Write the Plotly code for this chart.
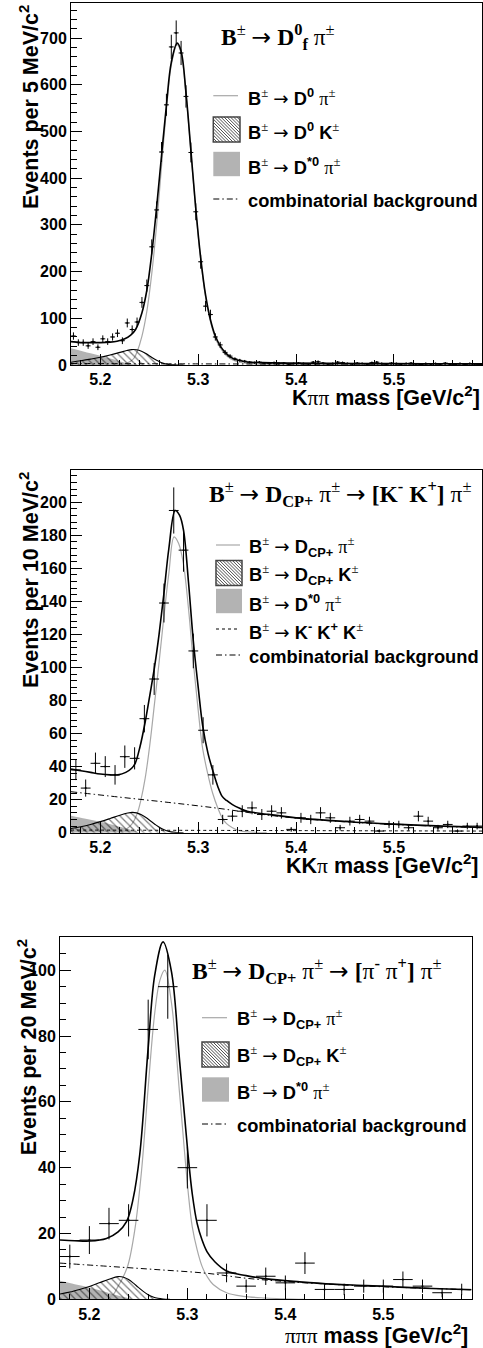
import numpy as np
import plotly.graph_objects as go

# ====================== DATA ======================
# ---- Panel 1 : K pi pi, 5 MeV bins ----
P1_MASS = [5.1725, 5.1775, 5.1825, 5.1875, 5.1925, 5.1975, 5.2025, 5.2075, 5.2125, 5.2175,
           5.2225, 5.2275, 5.2325, 5.2375, 5.2425, 5.2475, 5.2525, 5.2575, 5.2625, 5.2675,
           5.2725, 5.2775, 5.2825, 5.2875, 5.2925, 5.2975, 5.3025, 5.3075, 5.3125, 5.3175,
           5.3225, 5.3275, 5.3325, 5.3375, 5.3425, 5.3475, 5.3525, 5.3575, 5.3625, 5.3675,
           5.3725, 5.3775, 5.3825, 5.3875, 5.3925, 5.3975, 5.4025, 5.4075, 5.4125, 5.4175,
           5.4225, 5.4275, 5.4325, 5.4375, 5.4425, 5.4475, 5.4525, 5.4575, 5.4625, 5.4675,
           5.4725, 5.4775, 5.4825, 5.4875, 5.4925, 5.4975, 5.5025, 5.5075, 5.5125, 5.5175,
           5.5225, 5.5275, 5.5325, 5.5375, 5.5425, 5.5475, 5.5525, 5.5575, 5.5625, 5.5675,
           5.5725, 5.5775, 5.5825, 5.5875]
P1_COUNTS = [62, 48, 48, 41, 50, 38, 56, 50, 60, 68,
             52, 90, 76, 92, 134, 170, 253, 332, 456, 557,
             681, 711, 668, 575, 455, 328, 221, 126, 108, 60,
             43, 27, 19, 13, 10, 8, 6, 5, 6, 4,
             3, 5, 3, 4, 2, 3, 4, 3, 2, 6,
             7, 4, 2, 3, 6, 5, 3, 2, 4, 3,
             2, 5, 6, 3, 2, 4, 3, 2, 3, 4,
             2, 1, 3, 2, 3, 2, 4, 2, 1, 3,
             2, 3, 2, 1]
P1_TOTAL_M = [5.170, 5.180, 5.190, 5.200, 5.210, 5.217, 5.225, 5.231, 5.236, 5.2425, 5.2475,
              5.2525, 5.2575, 5.2625, 5.2675, 5.2725, 5.2785, 5.2825, 5.2875, 5.2925, 5.2975,
              5.3025, 5.3075, 5.3125, 5.3175, 5.3225, 5.3275, 5.333, 5.340, 5.350, 5.365,
              5.390, 5.430, 5.480, 5.530, 5.590]
P1_TOTAL_V = [50, 48, 48, 48, 49, 51, 56, 64, 76, 112, 160,
              238, 338, 448, 556, 648, 689, 672, 583, 460, 335,
              230, 150, 97, 62, 41, 27, 17, 10.5, 6.5, 5,
              4, 3.4, 3, 2.7, 2.5]
P1_SIG_M = [5.212, 5.220, 5.226, 5.231, 5.2345, 5.2375, 5.2425, 5.2475, 5.2525, 5.2575, 5.2625,
            5.2675, 5.2725, 5.2785, 5.2825, 5.2875, 5.2925, 5.2975, 5.3025, 5.3075, 5.3125,
            5.3175, 5.3225, 5.3275, 5.333, 5.340, 5.350, 5.365, 5.390, 5.430, 5.500]
P1_SIG_V = [0, 1.3, 3.5, 8, 15, 28, 62, 115, 195, 300, 425,
            545, 642, 686, 668, 580, 457, 331, 226, 146, 93,
            58, 37, 23, 13.5, 7, 3.5, 1.8, 0.7, 0.2, 0]
P1_DK_M = [5.170, 5.180, 5.190, 5.200, 5.210, 5.220, 5.227, 5.232, 5.237, 5.242, 5.247,
           5.252, 5.257, 5.262, 5.267, 5.272, 5.278, 5.285]
P1_DK_V = [6, 9, 12.5, 16.5, 21.5, 27, 31, 33, 32.5, 29.5, 24,
           17, 10.5, 5.5, 2.2, 0.6, 0.1, 0]
P1_DST_M = [5.170, 5.190, 5.210, 5.225, 5.240]
P1_DST_V = [36, 25, 14, 5, 0]
P1_COMB_M = [5.170, 5.300, 5.450, 5.590]
P1_COMB_V = [3.2, 2.4, 1.9, 1.5]

# ---- Panel 2 : K K pi, 10 MeV bins ----
P2_MASS = [5.175, 5.185, 5.195, 5.205, 5.215, 5.225, 5.235, 5.245, 5.255, 5.265,
           5.275, 5.285, 5.295, 5.305, 5.315, 5.325, 5.335, 5.345, 5.355, 5.365,
           5.375, 5.385, 5.395, 5.405, 5.415, 5.425, 5.435, 5.445, 5.455, 5.465,
           5.475, 5.485, 5.495, 5.505, 5.515, 5.525, 5.535, 5.545, 5.555, 5.565,
           5.575, 5.585]
P2_COUNTS = [38, 27, 42, 40, 35, 46, 45, 69, 93, 139,
             195, 171, 110, 62, 35, 8, 10, 13, 15, 11,
             13, 12, 2, 9, 8, 12, 9, 3, 7, 8,
             7, 1, 5, 5, 3, 10, 7, 3, 5, 1,
             4, 4]
P2_TOTAL_M = [5.170, 5.180, 5.190, 5.200, 5.210, 5.218, 5.226, 5.232, 5.2356, 5.2405, 5.2458,
              5.2505, 5.2553, 5.2600, 5.2648, 5.2700, 5.2765, 5.2810, 5.2850, 5.2900, 5.2950,
              5.3000, 5.3045, 5.3100, 5.3147, 5.3200, 5.3245, 5.3290, 5.3350, 5.3424, 5.3500,
              5.3700, 5.4000, 5.4500, 5.5000, 5.5500, 5.5900]
P2_TOTAL_V = [38.5, 37.5, 36.5, 35.5, 35, 35, 36.5, 39, 42, 52, 67,
              83, 100, 120, 144, 172, 195, 192, 183, 152, 116,
              88, 65, 48, 38, 28, 22, 19.5, 17, 14.8, 13,
              11.2, 9.0, 6.8, 5.2, 4.0, 3.2]
P2_SIG_M = [5.218, 5.226, 5.2320, 5.2373, 5.2415, 5.2458, 5.2505, 5.2553, 5.2600, 5.2648,
            5.2700, 5.2753, 5.2800, 5.2848, 5.2900, 5.2950, 5.3000, 5.3045, 5.3100, 5.3147,
            5.3200, 5.3245, 5.3290, 5.3350, 5.3425, 5.3500, 5.3700]
P2_SIG_V = [0.3, 2, 5, 11, 20, 33, 53, 78, 103, 130,
            157, 179, 175, 163, 136, 103, 74, 51, 35, 24,
            15, 9, 5.5, 3, 1.2, 0.5, 0]
P2_DK_M = [5.170, 5.180, 5.190, 5.200, 5.210, 5.220, 5.228, 5.2325, 5.237, 5.242, 5.247,
           5.252, 5.257, 5.262, 5.267, 5.272, 5.278, 5.285]
P2_DK_V = [2.5, 3.6, 5, 6.7, 8.6, 10.6, 11.9, 12.3, 12.0, 10.8, 9,
           6.8, 4.6, 2.7, 1.3, 0.5, 0.1, 0]
P2_DST_M = [5.170, 5.185, 5.200, 5.215, 5.230, 5.240]
P2_DST_V = [10.3, 8.5, 6.6, 4.4, 2.0, 0]
P2_KKK_M = [5.170, 5.380, 5.590]
P2_KKK_V = [1.6, 1.3, 1.0]
P2_COMB_M = [5.170, 5.220, 5.270, 5.320, 5.360, 5.400, 5.450, 5.500, 5.550, 5.590]
P2_COMB_V = [24.8, 21.5, 18.3, 14.8, 11.5, 8.8, 6.6, 5.0, 3.8, 3.0]

# ---- Panel 3 : pi pi pi, 20 MeV bins ----
P3_MASS = [5.18, 5.20, 5.22, 5.24, 5.26, 5.28, 5.30, 5.32, 5.34, 5.36,
           5.38, 5.40, 5.42, 5.44, 5.46, 5.48, 5.50, 5.52, 5.54, 5.56, 5.58]
P3_COUNTS = [13, 18, 23, 24, 82, 95, 40, 24, 8, 4,
             7, 5, 11, 3, 3, 4, 4, 6, 4, 2, 3]
P3_TOTAL_M = [5.170, 5.185, 5.2004, 5.2174, 5.2293, 5.2379, 5.2446, 5.2514, 5.2599, 5.2667,
              5.2752, 5.2838, 5.2922, 5.3007, 5.3050, 5.3100, 5.3150, 5.3200, 5.3280, 5.3400,
              5.3600, 5.3807, 5.4147, 5.4487, 5.4827, 5.5167, 5.5500, 5.5900]
P3_TOTAL_V = [18.0, 17.8, 17.7, 18.5, 20.5, 23.6, 30.5, 44, 76, 98.5,
              108.6, 99.5, 72, 44, 32, 23, 18, 14.5, 11.4, 8.6,
              7.2, 6.2, 5.3, 4.6, 4.2, 3.7, 3.3, 2.9]
P3_SIG_M = [5.218, 5.2245, 5.2293, 5.2340, 5.2395, 5.2463, 5.2532, 5.2599, 5.2667, 5.2720,
            5.2770, 5.2838, 5.2922, 5.3007, 5.3050, 5.3100, 5.3150, 5.3200, 5.3263, 5.3400,
            5.3570, 5.3800, 5.4200]
P3_SIG_V = [0.3, 1.5, 4, 6.5, 10.5, 21, 39, 64, 87, 97,
            100, 90, 62, 33, 22, 15, 10, 7, 4.5, 2,
            0.9, 0.4, 0]
P3_DK_M = [5.170, 5.180, 5.190, 5.200, 5.210, 5.220, 5.2293, 5.235, 5.240, 5.245, 5.250,
           5.255, 5.260, 5.265, 5.270, 5.2752, 5.282]
P3_DK_V = [1.6, 2.2, 3.0, 3.9, 5.0, 6.1, 6.9, 6.7, 6.0, 4.9, 3.6,
           2.4, 1.4, 0.7, 0.3, 0.1, 0]
P3_DST_M = [5.170, 5.185, 5.200, 5.215, 5.230, 5.245]
P3_DST_V = [5.6, 4.6, 3.6, 2.4, 1.1, 0]
P3_COMB_M = [5.170, 5.220, 5.270, 5.320, 5.360, 5.400, 5.450, 5.500, 5.550, 5.590]
P3_COMB_V = [11.0, 10.0, 9.0, 7.9, 6.4, 5.4, 4.5, 3.8, 3.3, 2.9]

# ---- axes ticks ----
X_RANGE = [5.17, 5.59]
X_TICKS = [5.2, 5.3, 5.4, 5.5]
X_TICK_TEXT = ["5.2", "5.3", "5.4", "5.5"]
Y1_TICKS = [0, 100, 200, 300, 400, 500, 600, 700]
Y2_TICKS = [0, 20, 40, 60, 80, 100, 120, 140, 160, 180, 200]
Y3_TICKS = [0, 20, 40, 60, 80, 100]
Y_RANGES = [[0, 775], [0, 219.5], [0, 110]]

# ====================== STYLE / LAYOUT ======================
W, H = 483, 1348


def PX(x):
    return x / W


def PY(y):
    return 1 - y / H


SANS = "Liberation Sans, Arial, sans-serif"
SERIF = "Liberation Serif, Times New Roman, serif"
GRAY_FILL = "#b3b3b3"
GRAY_LINE = "#a8a8a8"
DASHDOT = "6px,3px,1.5px,3px"


def sym(s, fam="Liberation Serif"):
    return "<span style='font-family:%s;font-weight:normal'>%s</span>" % (fam, s)


PM = sym("±")
ARR = sym("→", "DejaVu Sans")
PI = sym("π")

fig = go.Figure()

panels = [
    dict(mass=P1_MASS, counts=P1_COUNTS, half=0.0025,
         tot=(P1_TOTAL_M, P1_TOTAL_V), sig=(P1_SIG_M, P1_SIG_V), dk=(P1_DK_M, P1_DK_V),
         dst=(P1_DST_M, P1_DST_V), comb=(P1_COMB_M, P1_COMB_V), kkk=None),
    dict(mass=P2_MASS, counts=P2_COUNTS, half=0.005,
         tot=(P2_TOTAL_M, P2_TOTAL_V), sig=(P2_SIG_M, P2_SIG_V), dk=(P2_DK_M, P2_DK_V),
         dst=(P2_DST_M, P2_DST_V), comb=(P2_COMB_M, P2_COMB_V), kkk=(P2_KKK_M, P2_KKK_V)),
    dict(mass=P3_MASS, counts=P3_COUNTS, half=0.01,
         tot=(P3_TOTAL_M, P3_TOTAL_V), sig=(P3_SIG_M, P3_SIG_V), dk=(P3_DK_M, P3_DK_V),
         dst=(P3_DST_M, P3_DST_V), comb=(P3_COMB_M, P3_COMB_V), kkk=None),
]

for i, p in enumerate(panels):
    xa = "x" if i == 0 else "x%d" % (i + 1)
    ya = "y" if i == 0 else "y%d" % (i + 1)
    fig.add_trace(go.Scatter(x=p["dst"][0], y=p["dst"][1], mode="lines", fill="tozeroy",
                             fillcolor=GRAY_FILL, line=dict(width=0, shape="spline"),
                             xaxis=xa, yaxis=ya, showlegend=False, hoverinfo="skip"))
    fig.add_trace(go.Scatter(x=p["sig"][0], y=p["sig"][1], mode="lines",
                             line=dict(color=GRAY_LINE, width=1.2, shape="spline"),
                             xaxis=xa, yaxis=ya, showlegend=False, hoverinfo="skip"))
    fig.add_trace(go.Scatter(x=p["dk"][0], y=p["dk"][1], mode="lines", fill="tozeroy",
                             fillcolor="rgba(0,0,0,0)",
                             fillpattern=dict(shape="\\", fgcolor="black", bgcolor="rgba(0,0,0,0)",
                                              size=5, solidity=0.25),
                             line=dict(color="black", width=1.1, shape="spline"),
                             xaxis=xa, yaxis=ya, showlegend=False, hoverinfo="skip"))
    if p["kkk"] is not None:
        fig.add_trace(go.Scatter(x=p["kkk"][0], y=p["kkk"][1], mode="lines",
                                 line=dict(color="black", width=1, dash="dot", shape="spline"),
                                 xaxis=xa, yaxis=ya, showlegend=False, hoverinfo="skip"))
    fig.add_trace(go.Scatter(x=p["comb"][0], y=p["comb"][1], mode="lines",
                             line=dict(color="black", width=1, dash=DASHDOT, shape="spline"),
                             xaxis=xa, yaxis=ya, showlegend=False, hoverinfo="skip"))
    fig.add_trace(go.Scatter(x=p["tot"][0], y=p["tot"][1], mode="lines",
                             line=dict(color="black", width=1.6, shape="spline"),
                             xaxis=xa, yaxis=ya, showlegend=False, hoverinfo="skip"))
    counts = np.array(p["counts"], dtype=float)
    fig.add_trace(go.Scatter(x=p["mass"], y=counts, mode="markers",
                             marker=dict(size=2, color="black"),
                             error_x=dict(type="constant", value=p["half"], width=0,
                                          thickness=1, color="black"),
                             error_y=dict(type="data", array=np.sqrt(counts), width=0,
                                          thickness=1, color="black"),
                             xaxis=xa, yaxis=ya, showlegend=False, hoverinfo="skip"))

TICKFONT = dict(family=SANS, size=16, color="black", weight="bold")

frames = [(71, 482, 3, 365), (71, 482, 470, 832.7), (60, 471.5, 937.3, 1299.3)]
y_ticks = [Y1_TICKS, Y2_TICKS, Y3_TICKS]
y_minor = [20, 4, 5]

layout = dict(width=W, height=H, margin=dict(l=0, r=0, t=0, b=0, pad=0, autoexpand=False),
              autosize=False, paper_bgcolor="white", plot_bgcolor="white", showlegend=False)
for i, (l, r, t, b) in enumerate(frames):
    sx = "" if i == 0 else str(i + 1)
    layout["xaxis" + sx] = dict(
        domain=[PX(l), PX(r)], anchor="y" + sx, range=X_RANGE, automargin=False,
        showline=True, linecolor="black", linewidth=1, mirror=True,
        ticks="inside", ticklen=11, tickwidth=1, tickcolor="black",
        tickmode="array", tickvals=X_TICKS, ticktext=X_TICK_TEXT, tickfont=TICKFONT,
        showgrid=False, zeroline=False,
        minor=dict(ticks="inside", ticklen=5.5, tickmode="linear", tick0=5.0, dtick=0.02,
                   tickcolor="black", tickwidth=1, showgrid=False))
    layout["yaxis" + sx] = dict(
        domain=[PY(b), PY(t)], anchor="x" + sx, range=Y_RANGES[i], automargin=False,
        showline=True, linecolor="black", linewidth=1, mirror=True,
        ticks="inside", ticklen=11, tickwidth=1, tickcolor="black",
        tickmode="array", tickvals=y_ticks[i], ticktext=[str(v) for v in y_ticks[i]],
        tickfont=TICKFONT, showgrid=False, zeroline=False,
        minor=dict(ticks="inside", ticklen=5.5, tickmode="linear", tick0=0, dtick=y_minor[i],
                   tickcolor="black", tickwidth=1, showgrid=False))
fig.update_layout(**layout)

# ====================== TEXT ======================
ann = []


def text(x, y, s, size, family=SANS, xanchor="left", yanchor="middle", angle=0, bold=True):
    ann.append(dict(x=PX(x), y=PY(y), xref="paper", yref="paper", text=s, showarrow=False,
                    xanchor=xanchor, yanchor=yanchor, textangle=angle,
                    font=dict(family=family, size=size, color="black",
                              weight="bold" if bold else "normal")))


Y_TITLES = ["Events per 5 MeV/c<sup>2</sup>", "Events per 10 MeV/c<sup>2</sup>",
            "Events per 20 MeV/c<sup>2</sup>"]
Y_TITLE_X = [29, 29, 27]
for i, (l, r, t, b) in enumerate(frames):
    text(Y_TITLE_X[i], t, Y_TITLES[i], 21.5, xanchor="center", yanchor="top", angle=-90)

X_TITLES = ["K" + PI + PI + " mass [GeV/c<sup>2</sup>]",
            "KK" + PI + " mass [GeV/c<sup>2</sup>]",
            PI + PI + PI + " mass [GeV/c<sup>2</sup>]"]
X_TITLE_POS = [(482, 396), (481, 864), (470, 1334)]
for s, (x, y) in zip(X_TITLES, X_TITLE_POS):
    text(x, y, s, 21.5, xanchor="right")

TITLES = [
    "B<sup>" + PM + "</sup> " + ARR + " D<sup>0</sup><sub>f</sub> " + PI + "<sup>" + PM + "</sup>",
    "B<sup>" + PM + "</sup> " + ARR + " D<sub>CP+</sub> " + PI + "<sup>" + PM + "</sup> " + ARR
    + " [K<sup>-</sup> K<sup>+</sup>] " + PI + "<sup>" + PM + "</sup>",
    "B<sup>" + PM + "</sup> " + ARR + " D<sub>CP+</sub> " + PI + "<sup>" + PM + "</sup> " + ARR
    + " [" + PI + "<sup>-</sup> " + PI + "<sup>+</sup>] " + PI + "<sup>" + PM + "</sup>",
]
TITLE_POS = [(219, 37), (207, 494), (190, 971)]
for s, (x, y) in zip(TITLES, TITLE_POS):
    text(x, y, s, 23.5, family=SERIF)

LEG = [
    ["B<sup>" + PM + "</sup> " + ARR + " D<sup>0</sup> " + PI + "<sup>" + PM + "</sup>",
     "B<sup>" + PM + "</sup> " + ARR + " D<sup>0</sup> K<sup>" + PM + "</sup>",
     "B<sup>" + PM + "</sup> " + ARR + " D<sup>*0</sup> " + PI + "<sup>" + PM + "</sup>",
     "combinatorial background"],
    ["B<sup>" + PM + "</sup> " + ARR + " D<sub>CP+</sub> " + PI + "<sup>" + PM + "</sup>",
     "B<sup>" + PM + "</sup> " + ARR + " D<sub>CP+</sub> K<sup>" + PM + "</sup>",
     "B<sup>" + PM + "</sup> " + ARR + " D<sup>*0</sup> " + PI + "<sup>" + PM + "</sup>",
     "B<sup>" + PM + "</sup> " + ARR + " K<sup>-</sup> K<sup>+</sup> K<sup>" + PM + "</sup>",
     "combinatorial background"],
    ["B<sup>" + PM + "</sup> " + ARR + " D<sub>CP+</sub> " + PI + "<sup>" + PM + "</sup>",
     "B<sup>" + PM + "</sup> " + ARR + " D<sub>CP+</sub> K<sup>" + PM + "</sup>",
     "B<sup>" + PM + "</sup> " + ARR + " D<sup>*0</sup> " + PI + "<sup>" + PM + "</sup>",
     "combinatorial background"],
]
LEG_KINDS = [["line", "hatch", "fill", "dashdot"],
             ["line", "hatch", "fill", "dot", "dashdot"],
             ["line", "hatch", "fill", "dashdot"]]
LEG_ROWS = [[95.7, 129.5, 164, 199], [545, 573, 601, 629, 655], [1017.7, 1054.5, 1089.5, 1124]]
LEG_X = [(213.3, 240, 246), (216, 242, 247), (202, 229, 235)]

shapes = []


def pline(x0, x1, y, color, width, dash=None):
    d = dict(type="line", xref="paper", yref="paper", x0=PX(x0), x1=PX(x1), y0=PY(y), y1=PY(y),
             line=dict(color=color, width=width))
    if dash:
        d["line"]["dash"] = dash
    shapes.append(d)


def hatch_box(x0, y0, x1, y1, step=3.2):
    c = y0 - x1
    while c <= y1 - x0:
        xa = max(x0, y0 - c)
        xb = min(x1, y1 - c)
        if xb > xa:
            shapes.append(dict(type="line", xref="paper", yref="paper",
                               x0=PX(xa), y0=PY(xa + c), x1=PX(xb), y1=PY(xb + c),
                               line=dict(color="#222", width=0.8)))
        c += step
    shapes.append(dict(type="rect", xref="paper", yref="paper", x0=PX(x0), x1=PX(x1),
                       y0=PY(y1), y1=PY(y0), line=dict(color="#444", width=1.5),
                       fillcolor="rgba(0,0,0,0)"))


for i in range(3):
    gl, gr, tx = LEG_X[i]
    for s, kind, yc in zip(LEG[i], LEG_KINDS[i], LEG_ROWS[i]):
        if kind == "line":
            pline(gl, gr - 2, yc, GRAY_LINE, 1.2)
        elif kind == "hatch":
            hatch_box(gl, yc - 12.5, gr, yc + 12.5)
        elif kind == "fill":
            shapes.append(dict(type="rect", xref="paper", yref="paper", x0=PX(gl), x1=PX(gr),
                               y0=PY(yc + 12.2), y1=PY(yc - 12.2), line=dict(width=0),
                               fillcolor=GRAY_FILL))
        elif kind == "dot":
            pline(gl, gr - 2, yc, "black", 1, "dot")
        elif kind == "dashdot":
            pline(gl, gr - 2, yc, "black", 1, DASHDOT)
        text(tx, yc + 1.5, s, 18.3)

fig.update_layout(annotations=ann, shapes=shapes)
fig.write_html("out.html", config={"displayModeBar": False, "staticPlot": True},
               post_script="document.body.style.margin='0px';document.body.style.padding='0px';"
                           "document.body.style.overflow='hidden';")
